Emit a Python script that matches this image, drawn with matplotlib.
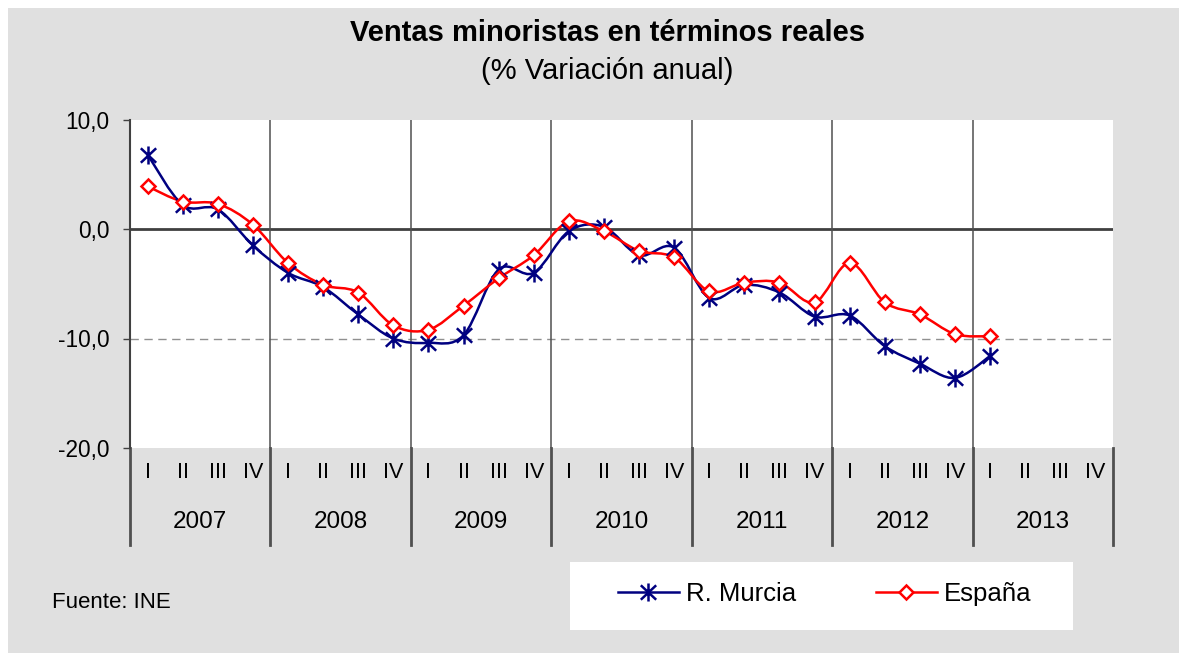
"""
Ventas minoristas en terminos reales - R. Murcia vs Espana (% variacion anual)
"""
import matplotlib
matplotlib.use("Agg")
import matplotlib.pyplot as plt
from matplotlib.path import Path
from matplotlib.patches import PathPatch, Rectangle
from matplotlib.lines import Line2D
import matplotlib.transforms as mtransforms

plt.rcParams['font.family'] = ['Liberation Sans', 'DejaVu Sans']

# Data: quarterly series 2007-I .. 2013-I
years = ["2007", "2008", "2009", "2010", "2011", "2012", "2013"]
quarters = ["I", "II", "III", "IV"]
murcia = [6.8, 2.2, 1.8, -1.5,
          -4.0, -5.3, -7.8, -10.0,
          -10.4, -9.7, -3.7, -4.0,
          -0.2, 0.2, -2.4, -1.7,
          -6.3, -5.1, -5.8, -8.0,
          -7.9, -10.7, -12.3, -13.6,
          -11.6]
espana = [3.9, 2.5, 2.3, 0.4,
          -3.1, -5.1, -5.8, -8.8,
          -9.2, -7.0, -4.5, -2.4,
          0.7, -0.2, -2.0, -2.6,
          -5.7, -4.9, -4.9, -6.7,
          -3.1, -6.7, -7.8, -9.6,
          -9.8]
yticks = [10, 0, -10, -20]
ytick_labels = ["10,0", "0,0", "-10,0", "-20,0"]

NAVY = "#000080"
RED = "#FF0000"
BG = "#E0E0E0"


def smooth_path(xs, ys):
    """Bezier path through the points, like the Excel 'smoothed line'."""
    pts = list(zip(xs, ys))
    verts = [pts[0]]
    codes = [Path.MOVETO]
    n = len(pts)
    for i in range(n - 1):
        p0 = pts[i - 1] if i > 0 else pts[i]
        p1 = pts[i]
        p2 = pts[i + 1]
        p3 = pts[i + 2] if i + 2 < n else pts[i + 1]
        c1 = (p1[0] + (p2[0] - p0[0]) / 6.0, p1[1] + (p2[1] - p0[1]) / 6.0)
        c2 = (p2[0] - (p3[0] - p1[0]) / 6.0, p2[1] - (p3[1] - p1[1]) / 6.0)
        verts += [c1, c2, p2]
        codes += [Path.CURVE4] * 3
    return Path(verts, codes)


# asterisk marker: vertical bar plus an X
star = Path([(0, 1), (0, -1), (-0.85, 0.8), (0.85, -0.8), (-0.85, -0.8), (0.85, 0.8)],
            [Path.MOVETO, Path.LINETO] * 3)

W, H = 1179, 653
fig = plt.figure(figsize=(W / 100, H / 100), dpi=100, facecolor="white")
fig.patches.append(Rectangle((8 / W, 0), 1, 1 - 8 / H, transform=fig.transFigure,
                             facecolor=BG, edgecolor="none", zorder=-10))

ax = fig.add_axes([130 / W, 1 - 448 / H, 983 / W, 328.5 / H])
ax.set_facecolor("white")

n_cat = len(years) * len(quarters)
x = list(range(len(murcia)))
ax.set_xlim(-0.5, n_cat - 0.5)
ax.set_ylim(-20, 10)

# reference lines
ax.axhline(0, color="#404040", lw=2, zorder=1)
ax.axhline(-10, color="#909090", lw=1, ls=(0, (6, 4)), zorder=1)

# year separators (inside the plot and extending into the label area)
trans = mtransforms.blended_transform_factory(ax.transData, ax.transAxes)
for k in range(len(years) + 1):
    xb = k * len(quarters) - 0.5
    if 0 < k < len(years):
        ax.plot([xb, xb], [0, 1], transform=trans, color="#505050", lw=1.1, zorder=1)
    ax.plot([xb, xb], [0, -0.295], transform=trans, color="#505050", lw=2,
            clip_on=False, zorder=1)

# category labels
for k, yr in enumerate(years):
    for q, ql in enumerate(quarters):
        ax.text(k * len(quarters) + q, -0.076, ql, transform=trans, ha="center",
                va="center", fontsize=15.5)
    ax.text(k * len(quarters) + 1.5, -0.225, yr, transform=trans, ha="center",
            va="center", fontsize=17.5)

# series
ax.add_patch(PathPatch(smooth_path(x, murcia), facecolor="none", edgecolor=NAVY,
                       lw=1.8, zorder=3))
ax.add_patch(PathPatch(smooth_path(x, espana), facecolor="none", edgecolor=RED,
                       lw=1.8, zorder=3))
ax.plot(x, murcia, ls="none", marker=star, ms=13, mew=1.8, color=NAVY, zorder=4)
ax.plot(x, espana, ls="none", marker="D", ms=7, mew=1.8, mec=RED, mfc="white", zorder=5)

# axes styling
for side in ["top", "right", "bottom"]:
    ax.spines[side].set_visible(False)
ax.spines["left"].set_color("#404040")
ax.spines["left"].set_linewidth(1.5)
ax.set_xticks([])
ax.set_yticks(yticks)
ax.set_yticklabels(ytick_labels, fontsize=16.3)
ax.tick_params(axis="y", length=5, width=1, color="#404040", pad=10)

# titles
fig.text(607 / W, 1 - 33 / H, "Ventas minoristas en términos reales", ha="center",
         va="center", fontsize=21, fontweight="bold")
fig.text(607 / W, 1 - 71 / H, "(% Variación anual)", ha="center", va="center",
         fontsize=21)
fig.text(52 / W, 1 - 602 / H, "Fuente: INE", ha="left", va="center", fontsize=16)

# legend in a white box
fig.patches.append(Rectangle((570 / W, 1 - 630 / H), 503 / W, 68 / H,
                             transform=fig.transFigure, facecolor="white",
                             edgecolor="none", zorder=-5))
handles = [Line2D([], [], color=NAVY, lw=1.8, marker=star, ms=13, mew=1.8),
           Line2D([], [], color=RED, lw=1.8, marker="D", ms=7, mew=1.8, mfc="white")]
fig.legend(handles, ["R. Murcia", "España"], loc="center",
           bbox_to_anchor=(824.5 / W, 1 - 594 / H), ncol=2, frameon=False,
           fontsize=18.5, handlelength=2.37, handletextpad=0.27, columnspacing=3.1)

fig.savefig("out.png", dpi=100, facecolor=fig.get_facecolor())
